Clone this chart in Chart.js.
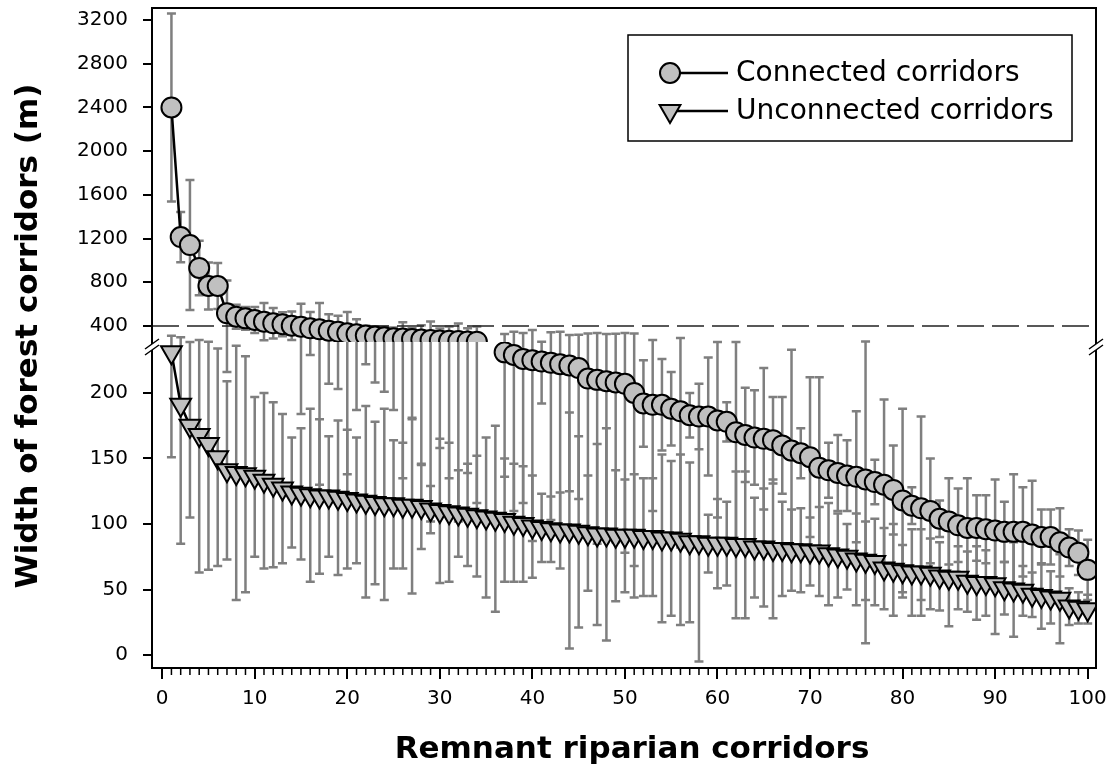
<!DOCTYPE html>
<html lang="en">
<head>
<meta charset="UTF-8" />
<title>Width of forest corridors</title>
<script src="https://cdn.jsdelivr.net/npm/chart.js"></script>
<style>
  body { margin: 0; background: #fff; }
  #wrap { width: 1112px; height: 775px; }
</style>
</head>
<body>
<div id="wrap"><canvas id="chart" width="1112" height="775"></canvas></div>
<script>
// tick labels
const xTicks = [0, 10, 20, 30, 40, 50, 60, 70, 80, 90, 100];
const yLowTicks = [0, 50, 100, 150, 200];
const yHighTicks = [400, 800, 1200, 1600, 2000, 2400, 2800, 3200];
const refLine = 400;

// connected corridors, above the axis break (corridors 1-34)
const connUpperStart = 1;
const connUpperMean = [2400, 1214, 1141, 931, 766, 766, 516, 485, 470, 455,
  440, 425, 416, 403, 394, 379, 370, 357, 348, 333,
  324, 312, 303, 297, 287, 285, 280, 276, 272, 268,
  265, 262, 259, 256];
const connUpperSD = [860, 230, 595, 250, 215, 210, 300, 110, 104, 120,
  170, 140, 110, 130, 210, 150, 240, 150, 145, 195,
  137, 90, 95, 96, 100, 150, 100, 130, 170, 110,
  130, 160, 120, 140];

// connected corridors, below the break (corridors 37-100)
const connLowerStart = 37;
const connLowerMean = [231, 229, 226, 225, 224, 223, 222, 221, 219, 211,
  210, 209, 208, 207, 200, 192, 191, 191, 188, 186,
  183, 182, 182, 179, 178, 170, 168, 166, 165, 164,
  160, 156, 154, 151, 143, 141, 139, 137, 136, 134,
  132, 130, 126, 118, 114, 112, 110, 104, 102, 99,
  97, 97, 96, 95, 94, 94, 94, 92, 90, 90,
  86, 82, 78, 65];
const connLowerSD = [95, 119, 110, 138, 32, 120, 125, 96, 100, 120,
  125, 118, 122, 129, 132, 33, 81, 35, 28, 104,
  17, 25, 45, 74, 15, 83, 36, 36, 54, 33,
  37, 77, 19, 61, 69, 21, 29, 27, 50, 125,
  17, 65, 34, 70, 14, 70, 40, 14, 33, 28,
  38, 25, 26, 39, 23, 44, 34, 41, 21, 21,
  26, 14, 17, 23];

// unconnected corridors (1-100)
const unconnStart = 1;
const unconnMean = [231, 191, 175, 168, 161, 151, 141, 139, 138, 136,
  133, 130, 127, 124, 123, 122, 121, 121, 120, 119,
  118, 117, 116, 115, 115, 114, 114, 113, 111, 110,
  109, 108, 107, 106, 105, 104, 103, 101, 100, 98,
  97, 96, 95, 95, 94, 93, 92, 92, 91, 91,
  91, 90, 90, 89, 89, 88, 86, 86, 85, 85,
  85, 84, 84, 82, 82, 81, 81, 80, 80, 79,
  79, 77, 76, 75, 73, 72, 71, 66, 65, 64,
  63, 63, 62, 60, 59, 59, 56, 55, 55, 54,
  51, 50, 49, 46, 45, 44, 43, 37, 36, 35];
const unconnSD = [80, 106, 70, 105, 96, 83, 68, 97, 90, 61,
  67, 63, 57, 42, 50, 66, 59, 46, 59, 53,
  48, 73, 62, 73, 49, 48, 67, 32, 18, 55,
  53, 33, 39, 46, 61, 71, 47, 45, 44, 39,
  26, 25, 29, 90, 73, 44, 69, 81, 50, 43,
  47, 45, 45, 64, 59, 65, 61, 91, 22, 34,
  32, 56, 56, 38, 45, 53, 36, 31, 32, 26,
  34, 39, 32, 25, 35, 30, 33, 31, 35, 20,
  33, 33, 27, 26, 37, 24, 23, 28, 25, 38,
  20, 36, 19, 17, 25, 20, 34, 14, 12, 11];

const FONT = '"DejaVu Sans"';
Chart.defaults.font.family = FONT;
Chart.defaults.color = '#000';

function toPoints(values, start) {
  return values.map((v, i) => ({ x: start + i, y: v }));
}

// value -> pixel across the broken axis
function yPix(chart, v) {
  const lo = chart.scales.yLow, hi = chart.scales.yHigh;
  if (v <= lo.max) return lo.getPixelForValue(v);
  return hi.getPixelForValue(Math.max(v, hi.min));
}

const errorBars = {
  id: 'errorBars',
  beforeDatasetsDraw(chart) {
    const { ctx, chartArea } = chart;
    const xs = chart.scales.x;
    ctx.save();
    ctx.beginPath();
    ctx.rect(chartArea.left, chartArea.top, chartArea.width, chartArea.height);
    ctx.clip();
    ctx.strokeStyle = '#7f7f7f';
    ctx.lineWidth = 2.5;
    chart.data.datasets.forEach(ds => {
      ds.data.forEach((p, i) => {
        const sd = ds.errors[i];
        const px = xs.getPixelForValue(p.x);
        const top = yPix(chart, p.y + sd);
        const bot = yPix(chart, p.y - sd);
        ctx.beginPath();
        ctx.moveTo(px, top); ctx.lineTo(px, bot);
        ctx.moveTo(px - 4.5, top); ctx.lineTo(px + 4.5, top);
        ctx.moveTo(px - 4.5, bot); ctx.lineTo(px + 4.5, bot);
        ctx.stroke();
      });
    });
    // dashed reference line at 400
    const yr = chart.scales.yHigh.getPixelForValue(refLine);
    ctx.setLineDash([27, 8]);
    ctx.strokeStyle = '#222';
    ctx.lineWidth = 1.5;
    ctx.beginPath();
    ctx.moveTo(chartArea.left, yr); ctx.lineTo(chartArea.right, yr);
    ctx.stroke();
    ctx.restore();
  }
};

const frame = {
  id: 'frame',
  afterDraw(chart) {
    const { ctx, chartArea } = chart;
    const xs = chart.scales.x;
    ctx.save();
    ctx.strokeStyle = '#000';
    ctx.lineWidth = 2;
    ctx.strokeRect(chartArea.left, chartArea.top, chartArea.width, chartArea.height);
    // minor x ticks
    ctx.lineWidth = 1.5;
    ctx.beginPath();
    for (let v = 0; v <= 100; v++) {
      if (v % 10 === 0) continue;
      const px = xs.getPixelForValue(v);
      ctx.moveTo(px, chartArea.bottom); ctx.lineTo(px, chartArea.bottom + 7);
    }
    ctx.stroke();
    // axis break marks
    const yb = chart.scales.yLow.top + 5;
    [chartArea.left, chartArea.right].forEach(ax => {
      ctx.fillStyle = '#fff';
      ctx.beginPath();
      ctx.moveTo(ax - 7, yb + 2); ctx.lineTo(ax + 7, yb - 8);
      ctx.lineTo(ax + 7, yb - 2); ctx.lineTo(ax - 7, yb + 8);
      ctx.closePath(); ctx.fill();
      ctx.lineWidth = 1.5;
      ctx.beginPath();
      ctx.moveTo(ax - 7, yb + 2); ctx.lineTo(ax + 7, yb - 8);
      ctx.moveTo(ax - 7, yb + 8); ctx.lineTo(ax + 7, yb - 2);
      ctx.stroke();
    });
    // axis titles
    ctx.fillStyle = '#000';
    ctx.font = 'bold 31px ' + FONT;
    ctx.textAlign = 'center';
    ctx.textBaseline = 'middle';
    ctx.fillText('Remnant riparian corridors', chartArea.left + 480, chartArea.bottom + 82);
    ctx.translate(29, (chartArea.top + chartArea.bottom) / 2 - 2);
    ctx.rotate(-Math.PI / 2);
    ctx.fillText('Width of forest corridors (m)', 0, 0);
    ctx.restore();

    // legend
    ctx.save();
    const lx = chartArea.right - 468, ly = chartArea.top + 27;
    ctx.lineWidth = 1.5;
    ctx.strokeStyle = '#000';
    ctx.strokeRect(lx, ly, 444, 106);
    const items = [chart.data.datasets[0], chart.data.datasets[2]];
    items.forEach((ds, k) => {
      const cy = ly + 38 + k * 38;
      ctx.strokeStyle = '#000';
      ctx.lineWidth = 2.5;
      ctx.beginPath();
      ctx.moveTo(lx + 40, cy); ctx.lineTo(lx + 100, cy);
      ctx.stroke();
      ctx.fillStyle = ds.pointBackgroundColor;
      ctx.lineWidth = ds.pointBorderWidth;
      Chart.helpers.drawPoint(ctx, {
        pointStyle: ds.pointStyle, radius: ds.pointRadius,
        rotation: ds.pointRotation || 0, borderWidth: ds.pointBorderWidth
      }, lx + 42, cy);
      ctx.fillStyle = '#000';
      ctx.font = '28px ' + FONT;
      ctx.textAlign = 'left';
      ctx.textBaseline = 'middle';
      ctx.fillText(ds.label, lx + 108, cy + 1);
    });
    ctx.restore();
  }
};

const lineStyle = {
  borderColor: '#000', borderWidth: 2.5, fill: false, tension: 0,
  pointBackgroundColor: '#c0c0c0', pointBorderColor: '#000', pointBorderWidth: 2
};

const tickFont = { size: 20, family: FONT };
const yGrid = { drawOnChartArea: false, drawTicks: true, tickLength: 9, color: '#000', lineWidth: 2 };
const fitY = s => { s.width = 152; s.paddingTop = 0; s.paddingBottom = 0; };

new Chart(document.getElementById('chart'), {
  type: 'line',
  data: {
    datasets: [
      Object.assign({ label: 'Connected corridors', data: toPoints(connUpperMean, connUpperStart),
        errors: connUpperSD, yAxisID: 'yHigh', pointStyle: 'circle', pointRadius: 10 }, lineStyle),
      Object.assign({ label: 'Connected corridors', data: toPoints(connLowerMean, connLowerStart),
        errors: connLowerSD, yAxisID: 'yLow', pointStyle: 'circle', pointRadius: 10 }, lineStyle),
      Object.assign({ label: 'Unconnected corridors', data: toPoints(unconnMean, unconnStart),
        errors: unconnSD, yAxisID: 'yLow', pointStyle: 'triangle', pointRotation: 180, pointRadius: 12 }, lineStyle)
    ]
  },
  options: {
    responsive: false,
    animation: false,
    events: [],
    layout: { autoPadding: false, padding: { top: 8, right: 16, left: 0, bottom: 0 } },
    plugins: { legend: { display: false }, tooltip: { enabled: false } },
    scales: {
      x: {
        type: 'linear', min: -1.1, max: 100.9,
        afterBuildTicks: s => { s.ticks = xTicks.map(v => ({ value: v })); },
        afterFit: s => { s.height = 107; s.paddingLeft = 0; s.paddingRight = 0; },
        border: { display: false },
        grid: { drawOnChartArea: false, drawTicks: true, tickLength: 11, color: '#000', lineWidth: 2 },
        ticks: { font: tickFont, color: '#000', padding: 8, maxRotation: 0, autoSkip: false, callback: v => String(v) }
      },
      yLow: {
        type: 'linear', position: 'left', stack: 'y', stackWeight: 326,
        min: -9.9, max: 238.9,
        afterBuildTicks: s => { s.ticks = yLowTicks.map(v => ({ value: v })); },
        afterFit: fitY,
        border: { display: false },
        grid: yGrid,
        ticks: { font: tickFont, color: '#000', padding: 15, autoSkip: false, callback: v => String(v) }
      },
      yHigh: {
        type: 'linear', position: 'left', stack: 'y', stackWeight: 334,
        min: 253.6, max: 3309.8,
        afterBuildTicks: s => { s.ticks = yHighTicks.map(v => ({ value: v })); },
        afterFit: fitY,
        border: { display: false },
        grid: yGrid,
        ticks: { font: tickFont, color: '#000', padding: 15, autoSkip: false, callback: v => String(v) }
      }
    }
  },
  plugins: [errorBars, frame]
});
</script>
</body>
</html>
